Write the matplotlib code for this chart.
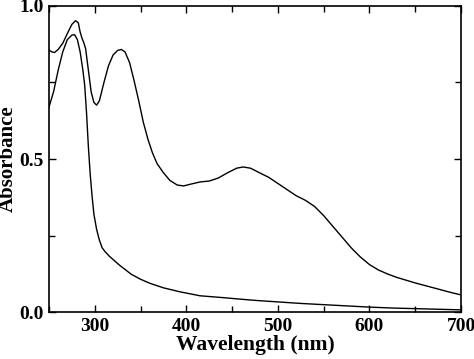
import numpy as np, matplotlib
matplotlib.use("Agg")
import matplotlib.pyplot as plt
from matplotlib.ticker import MultipleLocator

# upper curve (two bands + visible band)
wl_a = [250, 253, 256, 260, 265, 270, 275, 279, 282, 284, 286, 288, 290, 293, 296, 299, 302, 305,
        310, 315, 320, 325, 329, 333, 338, 343, 348, 353, 358, 363, 368, 375, 382, 390, 397, 405,
        415, 425, 435, 445, 455, 462, 470, 480, 490, 500, 510, 520, 530, 540, 550, 560, 570, 580,
        590, 600, 610, 620, 630, 640, 650, 660, 670, 680, 690, 700]
abs_a = [0.856, 0.850, 0.848, 0.858, 0.878, 0.910, 0.940, 0.952, 0.945, 0.915, 0.895, 0.880, 0.860,
         0.790, 0.720, 0.685, 0.676, 0.690, 0.750, 0.805, 0.840, 0.855, 0.858, 0.850, 0.815, 0.755,
         0.690, 0.620, 0.565, 0.520, 0.485, 0.455, 0.430, 0.415, 0.412, 0.418, 0.425, 0.428, 0.438,
         0.455, 0.470, 0.474, 0.470, 0.455, 0.440, 0.420, 0.400, 0.380, 0.365, 0.345, 0.315, 0.280,
         0.245, 0.210, 0.180, 0.155, 0.137, 0.124, 0.113, 0.104, 0.095, 0.087, 0.079, 0.071, 0.063,
         0.056]

# lower curve (single UV band)
wl_b = [250, 255, 260, 265, 270, 275, 278, 281, 284, 287, 289, 291, 293, 295, 297, 299, 302, 305,
        308, 311, 316, 327, 340, 350, 360, 375, 393, 415, 440, 455, 475, 500, 525, 550,
        575, 600, 625, 650, 675, 700]
abs_b = [0.670, 0.720, 0.790, 0.850, 0.890, 0.905, 0.906, 0.890, 0.850, 0.790, 0.740, 0.650, 0.540,
         0.450, 0.380, 0.320, 0.270, 0.235, 0.210, 0.198, 0.182, 0.153, 0.123, 0.107, 0.094, 0.079,
         0.066, 0.053, 0.047, 0.043, 0.038, 0.033, 0.028, 0.024, 0.020, 0.016, 0.013,
         0.011, 0.009, 0.007]

plt.rcParams["font.family"] = ["Liberation Serif", "DejaVu Serif"]
plt.rcParams["font.weight"] = "bold"

fig = plt.figure(figsize=(4.74, 3.59), dpi=100)
ax = fig.add_axes([0.1034, 0.1309, 0.8692, 0.8524])
ax.plot(wl_a, abs_a, color="black", linewidth=1.0)
ax.plot(wl_b, abs_b, color="black", linewidth=1.0)

ax.set_xlim(250, 700)
ax.set_ylim(0.0, 1.0)
ax.xaxis.set_major_locator(MultipleLocator(100))
ax.xaxis.set_minor_locator(MultipleLocator(50))
ax.yaxis.set_major_locator(MultipleLocator(0.5))
ax.yaxis.set_minor_locator(MultipleLocator(0.25))
ax.tick_params(which="both", direction="in", top=True, right=True, width=1.0, labelsize=14)
ax.tick_params(which="major", length=5, pad=4)
ax.tick_params(which="minor", length=4)
for s in ax.spines.values():
    s.set_linewidth(1.2)
for lab in ax.get_xticklabels() + ax.get_yticklabels():
    lab.set_fontweight("bold")
ax.set_xlabel("Wavelength (nm)", fontsize=15.5, fontweight="bold", labelpad=0)
ax.set_ylabel("Absorbance", fontsize=15, fontweight="bold", labelpad=1)

fig.savefig("out.png", dpi=100)
